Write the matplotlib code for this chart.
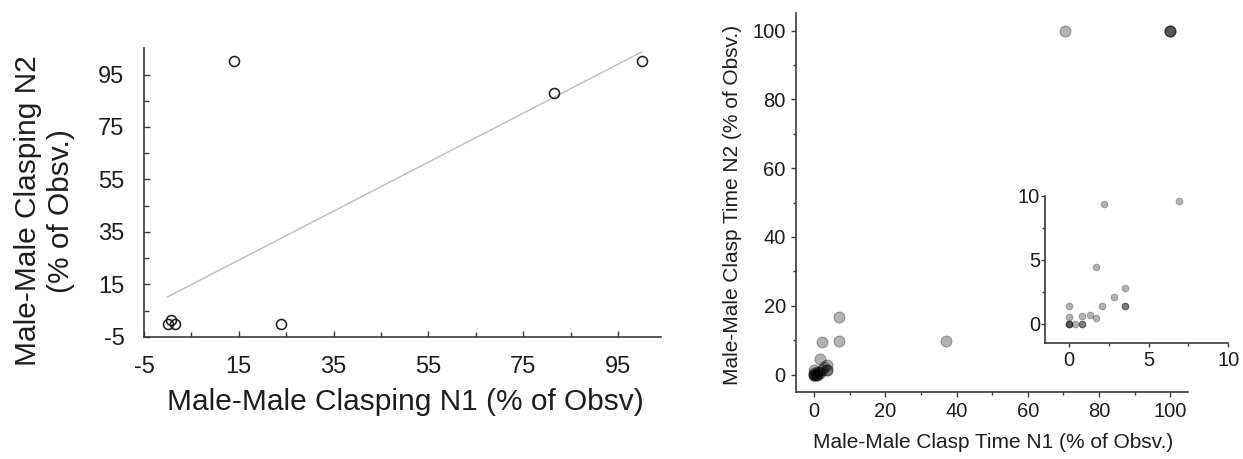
import matplotlib
matplotlib.use("Agg")
import matplotlib.pyplot as plt
from matplotlib.ticker import FixedLocator

plt.rcParams['font.family'] = ['Liberation Sans', 'DejaVu Sans']
plt.rcParams['axes.unicode_minus'] = False

# ---- Left panel data (Male-Male Clasping, % of observations) ----
left_n1 = [0.0, 0.8, 1.5, 14.0, 24.0, 81.5, 100.0]
left_n2 = [0.0, 1.5, 0.0, 100.0, 0.0, 88.0, 100.0]
fit_x = [0.0, 100.0]
fit_y = [10.2, 103.6]
left_xticks = [-5, 15, 35, 55, 75, 95]
left_yticks = [-5, 15, 35, 55, 75, 95]
left_minor = [5, 25, 45, 65, 85]

# ---- Right panel data (Male-Male Clasp Time, % of observations) ----
right_n1 = [70.5, 100, 100, 100, 7.0, 6.9, 2.2, 37.0, 1.7, 3.5, 2.8, 2.1,
            3.5, 3.5, 0.0, 0.0, 0.8, 1.35, 1.7, 0.0, 0.0, 0.0, 0.4, 0.8, 0.8]
right_n2 = [100, 100, 100, 100, 16.7, 9.6, 9.4, 9.6, 4.4, 2.75, 2.1, 1.4,
            1.4, 1.4, 1.4, 0.5, 0.6, 0.7, 0.4, 0.0, 0.0, 0.0, 0.0, 0.0, 0.0]
right_ticks = [0, 20, 40, 60, 80, 100]
right_minor = [10, 30, 50, 70, 90]
inset_ticks = [0, 5, 10]
inset_minor = [2.5, 7.5]

spine_c = '#3a3a3a'
text_c = '#1e1e1e'

fig = plt.figure(figsize=(12.43, 4.59), dpi=100)

# ---------------- Left panel ----------------
axL = fig.add_axes([0.1158, 0.2664, 0.4157, 0.6284])
axL.plot(fit_x, fit_y, color='#bdbdbd', lw=1.0, zorder=1)
axL.plot(left_n1, left_n2, linestyle='none', marker='o', markersize=7.2,
         markerfacecolor='none', markeredgecolor='#1a1a1a', markeredgewidth=1.1,
         zorder=2)
axL.set_xlim(-5, 104)
axL.set_ylim(-5, 105)
axL.xaxis.set_major_locator(FixedLocator(left_xticks))
axL.yaxis.set_major_locator(FixedLocator(left_yticks))
axL.xaxis.set_minor_locator(FixedLocator(left_minor))
axL.yaxis.set_minor_locator(FixedLocator(left_minor))
for s in ['top', 'right']:
    axL.spines[s].set_visible(False)
for s in ['left', 'bottom']:
    axL.spines[s].set_color(spine_c)
    axL.spines[s].set_linewidth(1.2)
axL.tick_params(which='both', direction='in', color=spine_c, width=1.0,
                labelsize=17, labelcolor=text_c, pad=14)
axL.tick_params(which='major', length=4.5)
axL.tick_params(which='minor', length=3.5)
axL.set_xlabel('Male-Male Clasping N1 (% of Obsv)', fontsize=21.5, color=text_c)
axL.xaxis.set_label_coords(405 / 1243, 1 - 410 / 459, transform=fig.transFigure)
axL.xaxis.label.set_va('baseline')
axL.set_ylabel('Male-Male Clasping N2\n(% of Obsv.)', fontsize=21.5, color=text_c,
               multialignment='center')
axL.yaxis.set_label_coords(44.5 / 1243, 1 - 211 / 459, transform=fig.transFigure)
axL.yaxis.label.set_va('center')

# ---------------- Right panel ----------------
axR = fig.add_axes([0.6406, 0.1466, 0.3153, 0.8244])
axR.scatter(right_n1, right_n2, s=62, c='black', alpha=0.3, linewidths=0.8,
            edgecolors='black', zorder=2)
axR.set_xlim(-5, 105)
axR.set_ylim(-5, 105)
axR.xaxis.set_major_locator(FixedLocator(right_ticks))
axR.yaxis.set_major_locator(FixedLocator(right_ticks))
axR.xaxis.set_minor_locator(FixedLocator(right_minor))
axR.yaxis.set_minor_locator(FixedLocator(right_minor))
for s in ['top', 'right']:
    axR.spines[s].set_visible(False)
for s in ['left', 'bottom']:
    axR.spines[s].set_color(spine_c)
    axR.spines[s].set_linewidth(1.2)
axR.tick_params(which='both', direction='out', color=spine_c, width=1.0,
                labelsize=14.5, labelcolor=text_c, pad=4)
axR.tick_params(which='major', length=3.5)
axR.tick_params(which='minor', length=2.5)
axR.set_xlabel('Male-Male Clasp Time N1 (% of Obsv.)', fontsize=15, color=text_c)
axR.xaxis.set_label_coords(993.5 / 1243, 1 - 448 / 459, transform=fig.transFigure)
axR.xaxis.label.set_va('baseline')
axR.set_ylabel('Male-Male Clasp Time N2 (% of Obsv.)', fontsize=15, color=text_c)
axR.yaxis.set_label_coords(733 / 1243, 1 - 205 / 459, transform=fig.transFigure)
axR.yaxis.label.set_va('center')

# ---------------- Inset ----------------
axI = fig.add_axes([0.8407, 0.2534, 0.1475, 0.3196])
axI.patch.set_alpha(0)
axI.scatter(right_n1, right_n2, s=24, c='black', alpha=0.3, linewidths=0.6,
            edgecolors='black', zorder=2, clip_on=True)
axI.set_xlim(-1.5, 10)
axI.set_ylim(-1.5, 10)
axI.xaxis.set_major_locator(FixedLocator(inset_ticks))
axI.yaxis.set_major_locator(FixedLocator(inset_ticks))
axI.xaxis.set_minor_locator(FixedLocator(inset_minor))
axI.yaxis.set_minor_locator(FixedLocator(inset_minor))
for s in ['top', 'right']:
    axI.spines[s].set_visible(False)
for s in ['left', 'bottom']:
    axI.spines[s].set_color(spine_c)
    axI.spines[s].set_linewidth(1.2)
axI.tick_params(which='both', direction='out', color=spine_c, width=1.0,
                labelsize=14.5, labelcolor=text_c)
axI.tick_params(axis='x', pad=3)
axI.tick_params(axis='y', pad=0.5)
axI.tick_params(which='major', length=3)
axI.tick_params(which='minor', length=2)

fig.savefig('out.png', dpi=100)
